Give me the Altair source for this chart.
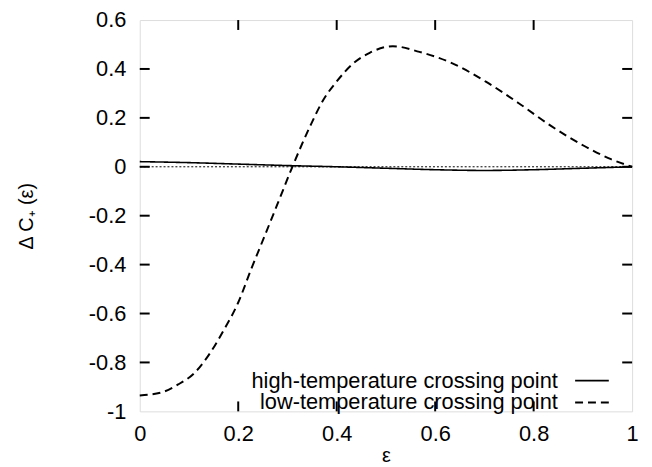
import altair as alt
import pandas as pd

# low-temperature crossing point (dashed)
low_x = [0.0, 0.045, 0.078, 0.11, 0.14, 0.17, 0.2, 0.226, 0.253, 0.28, 0.31, 0.346,
         0.373, 0.4, 0.434, 0.467, 0.514, 0.568, 0.635, 0.702, 0.769, 0.836, 0.903, 0.957, 1.0]
low_y = [-0.935, -0.922, -0.89, -0.845, -0.77, -0.67, -0.555, -0.42, -0.286, -0.151, 0.0, 0.166,
         0.274, 0.349, 0.423, 0.466, 0.493, 0.47, 0.423, 0.349, 0.261, 0.166, 0.085, 0.031, 0.0]
# high-temperature crossing point (solid)
high_x = [0.0, 0.1, 0.2, 0.3, 0.4, 0.5, 0.6, 0.7, 0.8, 0.9, 1.0]
high_y = [0.021, 0.017, 0.011, 0.005, 0.0, -0.006, -0.012, -0.015, -0.012, -0.006, 0.0]

series_names = ["high-temperature crossing point", "low-temperature crossing point"]
x_ticks = [0.2, 0.4, 0.6, 0.8]
y_ticks = [-0.8, -0.6, -0.4, -0.2, 0.0, 0.2, 0.4]
zero_x = [0.0, 1.0]

W, H = 497, 395
FONT = "Liberation Sans"
FS = 22
TL = 10
LBL = "replace(format(datum.value, '.1~f'), '\u2212', '-')"

df = pd.concat([
    pd.DataFrame({"x": high_x, "y": high_y, "series": series_names[0]}),
    pd.DataFrame({"x": low_x, "y": low_y, "series": series_names[1]}),
])

xs = alt.Scale(domain=[0, 1], nice=False, zero=False)
ys = alt.Scale(domain=[-1, 0.6], nice=False, zero=False)

xaxis = alt.Axis(values=[0, 0.2, 0.4, 0.6, 0.8, 1], ticks=False, domain=False, grid=False,
                 labelFont=FONT, labelFontSize=FS, labelColor="black", labelPadding=12,
                 labelExpr=LBL,
                 title="ε", titleFont=FONT, titleFontSize=20, titleFontWeight="normal",
                 titleColor="black", titleY=45, titleBaseline="middle", labelFlush=False)
yaxis = alt.Axis(values=[-1, -0.8, -0.6, -0.4, -0.2, 0, 0.2, 0.4, 0.6], ticks=False, domain=False,
                 grid=False, labelFont=FONT, labelFontSize=FS, labelColor="black", labelPadding=14,
                 labelExpr=LBL,
                 title="Δ C₊ (ε)", titleFont=FONT, titleFontSize=20, titleFontWeight="normal",
                 titleColor="black", titleAngle=-90, titleX=-114, titleY=H / 2,
                 titleAlign="center", titleBaseline="middle", labelFlush=False)

zero = alt.Chart(pd.DataFrame({"x": zero_x, "y": [0, 0]})).mark_line(
    color="black", strokeWidth=1, strokeDash=[2, 2]
).encode(x=alt.X("x:Q", scale=xs, axis=xaxis), y=alt.Y("y:Q", scale=ys, axis=yaxis))

lines = alt.Chart(df).mark_line(color="black", interpolate="monotone").encode(
    x=alt.X("x:Q", scale=xs),
    y=alt.Y("y:Q", scale=ys),
    strokeWidth=alt.StrokeWidth("series:N", scale=alt.Scale(domain=series_names, range=[1.6, 2]),
                                legend=None),
    strokeDash=alt.StrokeDash(
        "series:N",
        scale=alt.Scale(domain=series_names, range=[[1, 0], [8, 5]]),
        legend=alt.Legend(
            title=None, orient="none", legendX=400, legendY=353,
            symbolType="M3.35,0H7.35", symbolSize=289, symbolStrokeWidth=2,
            symbolStrokeColor="black", symbolOffset=0,
            labelFont=FONT, labelFontSize=FS, labelColor="black", labelLimit=500,
            labelAlign="right", labelOffset=0, rowPadding=0, padding=0,
        ),
    ),
    detail="series:N",
)

xt = pd.DataFrame({"t": x_ticks})
yt = pd.DataFrame({"t": y_ticks})
tick_style = dict(color="black", strokeWidth=2)
bt = alt.Chart(xt).mark_rule(**tick_style).encode(x=alt.X("t:Q", scale=xs), y=alt.value(H), y2=alt.value(H - TL))
tt = alt.Chart(xt).mark_rule(**tick_style).encode(x=alt.X("t:Q", scale=xs), y=alt.value(0), y2=alt.value(TL))
lt = alt.Chart(yt).mark_rule(**tick_style).encode(y=alt.Y("t:Q", scale=ys), x=alt.value(0), x2=alt.value(TL))
rt = alt.Chart(yt).mark_rule(**tick_style).encode(y=alt.Y("t:Q", scale=ys), x=alt.value(W), x2=alt.value(W - TL))

chart = alt.layer(zero, lines, bt, tt, lt, rt).properties(
    width=W, height=H,
    autosize=alt.AutoSizeParams(type="none"),
    padding={"left": 133, "top": 10, "right": 12, "bottom": 52},
).configure_view(stroke="black", strokeWidth=2).configure(background="white")

chart.save("out.html", embed_options={"renderer": "svg", "actions": False})
